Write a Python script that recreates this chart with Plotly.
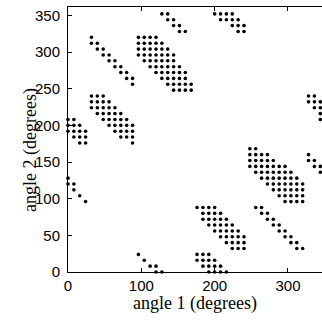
import plotly.graph_objects as go

# Each cluster: rows of (angle 2, [angle 1 values]) in degrees
cluster_a = [(352, [128, 136]), (344, [136, 144]), (336, [144, 152]), (328, [152, 160])]
cluster_g = [(352, [200, 208, 216, 224]), (344, [208, 216, 224, 232]),
             (336, [224, 232, 240]), (328, [232, 240])]
cluster_b = [(320, [32]), (312, [32, 40]), (304, [40, 48]), (296, [48, 56]),
             (288, [56, 64]), (280, [64, 72]), (272, [72, 80]), (264, [80, 88]), (256, [88])]
cluster_c = [(320, [96, 104, 112, 120]),
             (312, [96, 104, 112, 120, 128]),
             (304, [96, 104, 112, 120, 128, 136]),
             (296, [96, 104, 112, 120, 128, 136, 144]),
             (288, [104, 112, 120, 128, 136, 144]),
             (280, [112, 120, 128, 136, 144, 152]),
             (272, [120, 128, 136, 144, 152, 160]),
             (264, [128, 136, 144, 152, 160]),
             (256, [136, 144, 152, 160, 168]),
             (248, [144, 152, 160, 168])]
cluster_n = [(240, [328, 336]), (232, [328, 336, 344]), (224, [336, 344]), (216, [344]), (208, [344])]
cluster_d = [(240, [32, 40, 48]), (232, [32, 40, 48, 56]), (224, [32, 40, 48, 56, 64]),
             (216, [40, 48, 56, 64, 72]), (208, [48, 56, 64, 72, 80]),
             (200, [56, 64, 72, 80, 88]), (192, [64, 72, 80, 88]), (184, [72, 80, 88]), (176, [88])]
cluster_e = [(208, [0, 8]), (200, [0, 8, 16]), (192, [0, 8, 16, 24]), (184, [8, 16, 24]), (176, [16, 24])]
cluster_h = [(128, [0]), (120, [0, 8]), (112, [8]), (104, [16]), (96, [24])]
cluster_f = [(168, [248, 256]),
             (160, [248, 256, 264, 272]),
             (152, [248, 256, 264, 272, 280]),
             (144, [248, 256, 264, 272, 280, 288, 296]),
             (136, [256, 264, 272, 280, 288, 296, 304]),
             (128, [264, 272, 280, 288, 296, 304, 312]),
             (120, [272, 280, 288, 296, 304, 312, 320]),
             (112, [280, 288, 296, 304, 312, 320]),
             (104, [288, 296, 304, 312, 320]),
             (96, [296, 304, 312, 320])]
cluster_m = [(160, [328]), (152, [328, 336]), (144, [336, 344]), (136, [344])]
cluster_k = [(88, [176, 184, 192, 200]), (80, [184, 192, 200, 208]),
             (72, [184, 192, 200, 208, 216]), (64, [192, 200, 208, 216, 224]),
             (56, [200, 208, 216, 224, 232]), (48, [208, 216, 224, 232, 240]),
             (40, [216, 224, 232, 240]), (32, [224, 232, 240])]
cluster_l = [(88, [256, 264]), (80, [264, 272]), (72, [272, 280]), (64, [280, 288]),
             (56, [288, 296]), (48, [296, 304]), (40, [304, 312]), (32, [312, 320])]
cluster_i = [(24, [96]), (16, [104]), (8, [112, 120]), (0, [120, 128])]
cluster_j = [(24, [176, 184, 192]), (16, [176, 184, 192, 200]),
             (8, [184, 192, 200, 208]), (0, [192, 200, 208, 216])]

clusters = [cluster_a, cluster_g, cluster_b, cluster_c, cluster_n, cluster_d, cluster_e,
            cluster_h, cluster_f, cluster_m, cluster_k, cluster_l, cluster_i, cluster_j]

x_ticks = [0, 100, 200, 300]
y_ticks = [0, 50, 100, 150, 200, 250, 300, 350]

angle1, angle2 = [], []
for cl in clusters:
    for a2, row in cl:
        for a1 in row:
            angle1.append(a1)
            angle2.append(a2)

fig = go.Figure()
fig.add_trace(go.Scatter(x=angle1, y=angle2, mode="markers",
                         marker=dict(color="black", size=3.6),
                         cliponaxis=False, hoverinfo="skip"))

W, H = 322, 322
L, R, T, B = 68, 0, 7, 50
pw, ph = W - L - R, H - T - B

tick_font = dict(family="Liberation Sans, Arial, sans-serif", size=15, color="black")
title_font = dict(family="Liberation Serif, Times New Roman, serif", size=18, color="black")

fig.update_layout(
    width=W, height=H,
    margin=dict(l=L, r=R, t=T, b=B, pad=0),
    paper_bgcolor="white", plot_bgcolor="white",
    showlegend=False,
    xaxis=dict(range=[0, pw / 0.7333], tickmode="array", tickvals=x_ticks,
               ticks="inside", ticklen=4, tickcolor="black", tickwidth=1,
               showline=True, linecolor="black", linewidth=1, mirror="ticks",
               showgrid=False, zeroline=False, tickfont=tick_font, ticklabelstandoff=0),
    yaxis=dict(range=[0, ph / 0.7333], tickmode="array", tickvals=y_ticks,
               ticks="inside", ticklen=4, tickcolor="black", tickwidth=1,
               showline=True, linecolor="black", linewidth=1, mirror=False,
               showgrid=False, zeroline=False, tickfont=tick_font, ticklabelstandoff=4),
    annotations=[
        dict(text="angle 1 (degrees)", xref="paper", yref="paper",
             x=(195 - L) / pw, y=(272 - 303) / ph, xanchor="center", yanchor="middle",
             showarrow=False, font=title_font),
        dict(text="angle 2 (degrees)", xref="paper", yref="paper",
             x=(30 - L) / pw, y=(272 - 150) / ph, xanchor="center", yanchor="middle",
             textangle=-90, showarrow=False, font=title_font),
    ],
)

fig.write_html("out.html")
